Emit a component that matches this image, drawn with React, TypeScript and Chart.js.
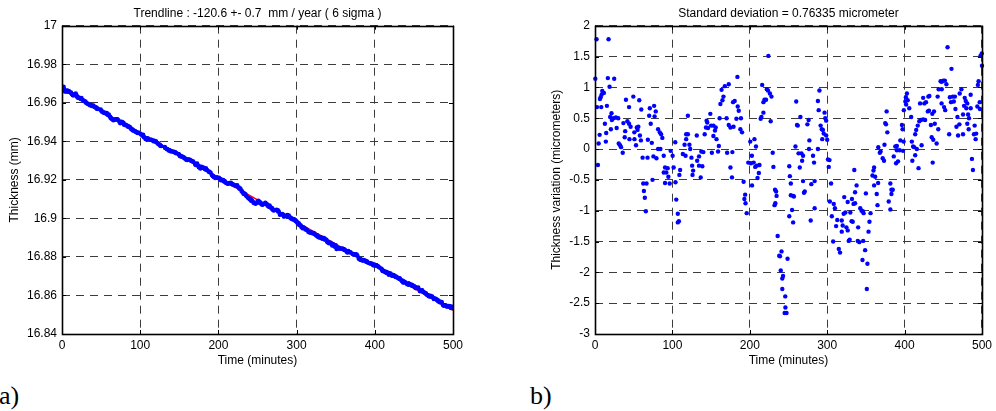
import React, { useEffect, useRef } from "react";
import { Chart, registerables } from "chart.js";

Chart.register(...registerables);

// ---------- data ----------
const TIME_TICKS = [0, 100, 200, 300, 400, 500];
const THICKNESS_TICKS = [16.84, 16.86, 16.88, 16.9, 16.92, 16.94, 16.96, 16.98, 17];
const DEVIATION_TICKS = [-3, -2.5, -2, -1.5, -1, -0.5, 0, 0.5, 1, 1.5, 2];

const TITLE_A = "Trendline : -120.6 +- 0.7  mm / year ( 6 sigma )";
const TITLE_B = "Standard deviation = 0.76335 micrometer";
const X_LABEL = "Time (minutes)";
const Y_LABEL_A = "Thickness (mm)";
const Y_LABEL_B = "Thickness variation (micrometers)";

// Trendline end points (time in minutes, thickness in mm)
const TREND_TIME = [0, 500];
const TREND_MM = [16.967, 16.8523];

// Residuals about the trend: [time (min), deviation (micrometers)]
const RESIDUALS: [number, number][] = [
  [0.4, 1.14], [2, 1.78], [2.6, 0.68], [3.8, -0.26], [4.7, 0.09], [6, 0.23], [6.4, 0.81], [7.3, 0.84],
  [8.1, 0.68], [8.5, 0.88], [9.4, 0.94], [11.5, 0.91], [12.8, 0.41], [14, 0.12], [14.5, 0.26], [15.4, 0.7],
  [16.6, 1.15], [17.5, 1.78], [18.8, 1.01], [19.6, 0.52], [20.5, 0.32], [21.3, 0.58], [21.8, 0.47], [24, 0.5],
  [24.8, 1.14], [27, 0.51], [28, 0.34], [30, 0.5], [30.7, 0.09], [32.4, 0.06], [33.7, 0.03], [35.8, -0.06],
  [36.7, 0.42], [38.4, 0.19], [39, 0.29], [40, 0.8], [41.8, 0.45], [44, 0.68], [44, 0.41], [44.5, 0.16],
  [46, 0.36], [49.5, 0.85], [50.8, 0.27], [51, 0.16], [53, 0.06], [54, 0.35], [55, 0.31], [56, 0.36],
  [57.2, 0.79], [58, 0.22], [59.3, 0.14], [59.8, 0.64], [61.5, -0.14], [62.3, -0.56], [63.2, -0.68], [64.4, -0.79],
  [65.7, -1.01], [66.6, -0.56], [67.9, -0.14], [68.3, 0.15], [70, 0.54], [70.8, 0.66], [72, 0.41], [73.4, 0.1],
  [74.3, -0.5], [75.5, -0.12], [76.4, 0.7], [77, 0.53], [78.5, 0.61], [79.4, -0.15], [81.5, 0.32], [81.5, 0],
  [83.7, 0.27], [84.5, 0], [85.4, 0.24], [87, 0.18], [88.8, -0.11], [88.8, -0.38], [90.5, -0.3], [90.5, -0.55],
  [92.2, -0.38], [93.9, -0.31], [94.8, -0.45], [96.5, -0.56], [97.7, -0.03], [100.3, -0.11], [101.6, -0.3], [103.7, 0.11],
  [104, -0.54], [105, -0.82], [107, -1.05], [107, -1.19], [108.4, -1.17], [109, -0.42], [110, -0.34], [113.5, -0.08],
  [115.7, 0.07], [117, -0.11], [117.8, 0.24], [117.8, 0.16], [120, 0.54], [120, 0.24], [122, 0.07], [123, 0],
  [124.6, -0.14], [125.5, -0.27], [126, -0.42], [126.8, -0.35], [131.5, 0.22], [132, -0.19], [134.4, -0.12], [134.4, -0.27],
  [136.6, -0.46], [137.4, -0.04], [138.7, -0.28], [140, -0.05], [141.7, 0.24], [143.4, 0.35], [144.2, 0.46], [145, 0.43],
  [146, 0.34], [149, 0.57], [150, 0.38], [151, -0.06], [153, 0.38], [153, 0.21], [155, 0.3], [156, 0.35],
  [157, 0.16], [159, -0.04], [160, 0.05], [161, 0.5], [162, 0.73], [163.5, 0.96], [164.7, 0.79], [166, 0.85],
  [167.7, 1.02], [170, 0.5], [170.7, -0.06], [172.8, 1.05], [172.8, 0.39], [175, 0.35], [175, -0.3], [177, -0.46],
  [177.5, -0.05], [178.4, 0.76], [179, 0.36], [180.5, 0.78], [182.7, 0.49], [184, 1.17], [184.4, 0.69], [185.7, 0.62],
  [187.8, 0.32], [188.6, 0.5], [190, 0.27], [192, -0.53], [193, -0.81], [194, -0.74], [194.5, -0.88], [196, -1.04],
  [198, -0.22], [200.6, 0.12], [201.5, -0.23], [202.7, -0.11], [202.9, -0.59], [205, -0.22], [206, 0.16], [207, -0.29],
  [208, 0.04], [209, -0.27], [210, -0.47], [211.7, -0.39], [212.5, -0.26], [214, 0.49], [215, 0.52], [216, 1.04],
  [217.6, 0.76], [217.6, 0.59], [219, 0.8], [221, 0.8], [222, 0.97], [223.5, 0.95], [224, 1.51], [226, 0.9],
  [227, 0.45], [228, 0.85], [229.6, -0.06], [230.5, -0.29], [232, -0.91], [232.6, -0.66], [233, -0.88], [234, -0.69],
  [234.6, -0.76], [236, -1.41], [238, -1.73], [239, -1.74], [240, -1.97], [241, -1.66], [242, -2.1], [242, -2.27],
  [243, -2.06], [245, -2.66], [245.8, -2.39], [246, -2.57], [247.5, -2.66], [248.8, -1.78], [251, -0.28], [251, -1.09],
  [251.8, -0.44], [253, -0.56], [253, -0.75], [254.6, -0.99], [256, -1.19], [256, -0.76], [257, -0.77], [259, 0.04],
  [260, 0.77], [261, 0.39], [262, 0.38], [263, -0.07], [264.6, -0.3], [265.4, 0.52], [266.7, -0.07], [267.6, -0.19],
  [268.8, -0.11], [268.8, -0.52], [270, -0.71], [271, -0.69], [274.4, 0.4], [276, 0.47], [276.5, 0], [277, 0.14],
  [278.7, -1.16], [279.5, -0.57], [281.7, -0.11], [283, -0.22], [283.8, -0.52], [283.8, -0.96], [288, 0], [288, 0.78],
  [289, 0.63], [290, 0.95], [291.5, 0.38], [293, 0.32], [293.6, 0.16], [294.5, 0.31], [295.5, 0.25], [296.6, 0.59],
  [297.5, 0.5], [298.7, 0.46], [298.7, 0.22], [300, 0.15], [301, -0.17], [302, -0.29], [303, -0.18], [303.4, -0.85],
  [305, -0.56], [306, -1.09], [307.7, -1.5], [308.5, -0.89], [310, -0.96], [311.5, -1.25], [313, -1.15], [315, -1.62],
  [316.6, -1.68], [318.8, -1.16], [318.8, -1.34], [320, -1.24], [321.3, -1.05], [322, -0.78], [323.5, -1.03], [324.8, -1.27],
  [326.5, -1.32], [326.5, -0.86], [327.8, -1.49], [329, -1.47], [329.9, -1.03], [331.5, -1.17], [332, -0.81], [333, -1.18],
  [334, -0.89], [335, -0.34], [336, -0.88], [336, -0.7], [338, -0.59], [339.5, -1.49], [340, -1.27], [341.5, -1.51],
  [342.7, -0.96], [344.4, -1], [345.6, -1.8], [346, -1.01], [346.5, -1.49], [347, -1.04], [349, -1.64], [350, -0.72],
  [351.2, -2.27], [352, -1.86], [353.4, -1.34], [354.6, -1.18], [356, -1.04], [358.5, -0.43], [359.8, -0.35], [360.6, -0.3],
  [360.6, -0.59], [362, -0.45], [364, -0.73], [365, -0.91], [365.8, -0.55], [366, 0.03], [368, -0.06], [369, -0.04],
  [371.7, -0.15], [373.4, -0.19], [374, 0.07], [375, 0.42], [376, 0.4], [376.8, 0.61], [377.7, 0.27], [379.5, -0.85],
  [381.6, -0.56], [381.6, -0.98], [383, -0.66], [383, -0.73], [384.7, -0.66], [386, -0.12], [388, 0.04], [389, -0.23],
  [390, 0.05], [390, -0.02], [391.5, -0.2], [393.6, -0.02], [394.5, 0.14], [396.6, 0.39], [397.4, 0.32], [398, -0.03],
  [398.7, 0.12], [399, 0.63], [401, 0.77], [401.7, 0.84], [402, 0.72], [403, 0.9], [404, 0.79], [406, 0.66],
  [408.5, 0.52], [409.4, 0.12], [410, -0.19], [411, 0.04], [412.4, 0.03], [413.7, -0.1], [413.7, 0.24], [415, 0.31],
  [415.8, 0], [417, 0.38], [418, -0.31], [419, 0.45], [420, 0.74], [421, 0.47], [422, 0.06], [424, 0.48],
  [424, 0.83], [425.5, 0.74], [426.5, 0.47], [427.7, 0.76], [430, 0.61], [430.7, 0.85], [431.5, 0.62], [432, 0.86],
  [434, 0.39], [435, 0.19], [435.8, 0.57], [436.3, -0.22], [437, 0.15], [438, 0.61], [439, 0.41], [441.4, 0.09],
  [442.7, 0.85], [443.5, 0.32], [444, 0.97], [446.5, 1.1], [447.8, 0.74], [448, 1.09], [448, 0.97], [450, 1.11],
  [451, 0.68], [452, 1.11], [452.5, 0.63], [454, 1.05], [455.5, 1.65], [457.6, 0.24], [458.5, 0.84], [460, 0.76],
  [460.6, 1.3], [462.3, 0.85], [463.6, 0.77], [465, 0.85], [465.7, 0.65], [467, 0.36], [468.3, 0.52], [469.1, 0.22],
  [470.8, 0.4], [471.2, 0.9], [473.4, 0.97], [475.5, 0.24], [475.5, 0.56], [476.8, 0.7], [477.7, 0.83], [479, 0.78],
  [479.8, 0.66], [481, 0.74], [481, 0.41], [482, 0.56], [482.8, 0.32], [483.2, 0.5], [485.4, 0.88], [485.4, 0.66],
  [487, -0.16], [488.3, -0.34], [489.6, 0.24], [490.5, 0.38], [491.8, 0.16], [492.5, 0.25], [494, 0.69], [494.7, 1.04],
  [495.6, 1.1], [497, 0.76], [497.3, 0.65], [498, 1.51], [499.7, 1.55], [500, 1.35],
];

// ---------- styling ----------
const FONT_FAMILY = "'Liberation Sans', Arial, Helvetica, sans-serif";
const GRID_COLOR = "#3c3c3c";
const GRID_DASH = [8, 6];

const fmt = (v: number | string) => String(Number(Number(v).toFixed(3)));

const framePlugin = {
  id: "matlabFrame",
  afterDraw(chart: any) {
    const { ctx, chartArea } = chart;
    const { left, top, right, bottom } = chartArea;
    const xs = chart.scales.x;
    const ys = chart.scales.y;
    ctx.save();
    ctx.setLineDash([]);
    ctx.strokeStyle = "#000";
    ctx.lineWidth = 1;
    ctx.beginPath();
    xs.ticks.forEach((t: any) => {
      const px = Math.round(xs.getPixelForValue(t.value)) + 0.5;
      ctx.moveTo(px, bottom);
      ctx.lineTo(px, bottom - 4);
      ctx.moveTo(px, top);
      ctx.lineTo(px, top + 4);
    });
    ys.ticks.forEach((t: any) => {
      const py = Math.round(ys.getPixelForValue(t.value)) + 0.5;
      ctx.moveTo(left, py);
      ctx.lineTo(left + 4, py);
      ctx.moveTo(right, py);
      ctx.lineTo(right - 4, py);
    });
    ctx.stroke();
    ctx.lineWidth = 1.6;
    ctx.strokeRect(Math.round(left) + 0.5, Math.round(top) + 0.5, Math.round(right - left), Math.round(bottom - top));
    ctx.restore();
  },
};

function makeOptions(cfg: {
  title: string;
  yLabel: string;
  yMin: number;
  yMax: number;
  yTicks: number[];
  yWidth: number;
  yTitlePad: number;
  padRight: number;
}) {
  const font = { family: FONT_FAMILY, size: 12 };
  return {
    responsive: false,
    animation: false as const,
    events: [] as any[],
    layout: { padding: { left: 0, right: cfg.padRight, top: 0, bottom: 0 } },
    plugins: {
      legend: { display: false },
      tooltip: { enabled: false },
      title: {
        display: true,
        text: cfg.title,
        fullSize: false,
        color: "#000",
        font: { ...font, weight: "normal" as const },
        padding: { top: 6, bottom: 5.3 },
      },
    },
    scales: {
      x: {
        type: "linear" as const,
        min: 0,
        max: 500,
        afterBuildTicks: (s: any) => {
          s.ticks = TIME_TICKS.map((v) => ({ value: v }));
        },
        afterFit: (s: any) => {
          s.height = 41;
        },
        ticks: { color: "#000", font, padding: 4, maxRotation: 0, autoSkip: false, callback: fmt },
        grid: { color: GRID_COLOR, lineWidth: 1, drawTicks: false },
        border: { display: false, dash: GRID_DASH },
        title: { display: true, text: X_LABEL, color: "#000", font, padding: { top: 0, bottom: 6.8 } },
      },
      y: {
        type: "linear" as const,
        min: cfg.yMin,
        max: cfg.yMax,
        afterBuildTicks: (s: any) => {
          s.ticks = cfg.yTicks.map((v) => ({ value: v }));
        },
        afterFit: (s: any) => {
          s.width = cfg.yWidth;
        },
        ticks: { color: "#000", font, padding: 5, autoSkip: false, callback: fmt },
        grid: { color: GRID_COLOR, lineWidth: 1, drawTicks: false },
        border: { display: false, dash: GRID_DASH },
        title: {
          display: true,
          text: cfg.yLabel,
          color: "#000",
          font,
          padding: { top: cfg.yTitlePad, bottom: 0 },
        },
      },
    },
  };
}

export default function App() {
  const leftRef = useRef<HTMLCanvasElement | null>(null);
  const rightRef = useRef<HTMLCanvasElement | null>(null);

  useEffect(() => {
    const sorted = [...RESIDUALS].sort((a, b) => a[0] - b[0]);
    const trendAt = (t: number) =>
      TREND_MM[0] + ((TREND_MM[1] - TREND_MM[0]) * (t - TREND_TIME[0])) / (TREND_TIME[1] - TREND_TIME[0]);
    const thickness = sorted.map(([t, v]) => ({ x: t, y: trendAt(t) + v / 1000 }));
    const trend = TREND_TIME.map((t, i) => ({ x: t, y: TREND_MM[i] }));
    const deviation = sorted.map(([t, v]) => ({ x: t, y: v }));

    const left = new Chart(leftRef.current!, {
      type: "scatter",
      data: {
        datasets: [
          {
            data: thickness,
            showLine: true,
            borderColor: "#0000ff",
            borderWidth: 3,
            borderJoinStyle: "round",
            borderCapStyle: "round",
            pointRadius: 2.3,
            pointBackgroundColor: "#0000ff",
            pointBorderWidth: 0,
          } as any,
          {
            data: trend,
            showLine: true,
            borderColor: "#ff0000",
            borderWidth: 1.5,
            pointRadius: 0,
          },
        ],
      },
      options: makeOptions({
        title: TITLE_A,
        yLabel: Y_LABEL_A,
        yMin: 16.84,
        yMax: 17,
        yTicks: THICKNESS_TICKS,
        yWidth: 62,
        yTitlePad: 7.8,
        padRight: 45,
      }) as any,
      plugins: [framePlugin],
    });

    const right = new Chart(rightRef.current!, {
      type: "scatter",
      data: {
        datasets: [
          {
            data: deviation,
            showLine: false,
            pointRadius: 2.2,
            pointBackgroundColor: "#0000ff",
            pointBorderWidth: 0,
            clip: false as any,
          },
        ],
      },
      options: makeOptions({
        title: TITLE_B,
        yLabel: Y_LABEL_B,
        yMin: -3,
        yMax: 2,
        yTicks: DEVIATION_TICKS,
        yWidth: 95,
        yTitlePad: 49.5,
        padRight: 11,
      }) as any,
      plugins: [framePlugin],
    });

    return () => {
      left.destroy();
      right.destroy();
    };
  }, []);

  const labelStyle: React.CSSProperties = {
    position: "absolute",
    top: 383,
    fontFamily: "'Liberation Serif', 'Times New Roman', serif",
    fontSize: 26,
    lineHeight: "26px",
    color: "#000",
    whiteSpace: "nowrap",
  };

  return (
    <div
      style={{
        position: "absolute",
        left: 0,
        top: 0,
        width: 996,
        height: 411,
        background: "#fff",
        overflow: "hidden",
      }}
    >
      <canvas ref={leftRef} width={498} height={375} style={{ position: "absolute", left: 0, top: 0 }} />
      <canvas ref={rightRef} width={496} height={375} style={{ position: "absolute", left: 500, top: 0 }} />
      <div style={{ ...labelStyle, left: -1 }}>a)</div>
      <div style={{ ...labelStyle, left: 530 }}>b)</div>
    </div>
  );
}
